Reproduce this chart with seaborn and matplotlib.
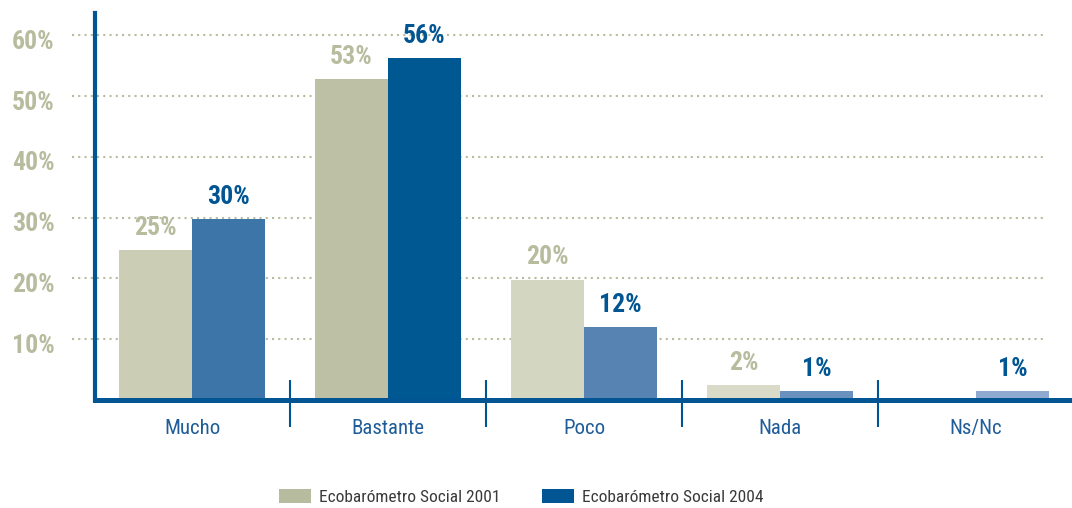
import matplotlib
matplotlib.use("Agg")
import matplotlib.pyplot as plt
import matplotlib.transforms as mtransforms
from matplotlib.patches import Patch
import seaborn as sns
import pandas as pd

# Data
categories = ['Mucho', 'Bastante', 'Poco', 'Nada', 'Ns/Nc']
series = ['Ecobarómetro Social 2001', 'Ecobarómetro Social 2004']
values_2001 = [24.6, 52.8, 19.8, 2.4, 0]
values_2004 = [29.7, 56.2, 12.0, 1.4, 1.4]
y_ticks = [10, 20, 30, 40, 50, 60]

# per-bar shades (the original fades the bars category by category)
shades_2001 = ['#cbcdb5', '#bdc0a5', '#d3d6c1', '#d9dbc8', '#e2e4d6']
shades_2004 = ['#3d75a8', '#005892', '#5783b3', '#6a90bd', '#8fa9d0']
olive = '#b8bc9e'
blue = '#005592'

df = pd.DataFrame({
    'cat': categories * 2,
    'serie': [series[0]] * len(categories) + [series[1]] * len(categories),
    'val': values_2001 + values_2004,
})

sns.set_style('white')
plt.rcParams['font.family'] = ['Roboto Condensed', 'DejaVu Sans']

fig = plt.figure(figsize=(10.72, 5.08), dpi=100)
ax = fig.add_axes([95 / 1072, 108 / 508, 975 / 1072, 387 / 508])

sns.barplot(data=df, x='cat', y='val', hue='serie', order=categories, hue_order=series,
            palette=[olive, blue], width=0.745, gap=0, linewidth=0, legend=False, ax=ax)

for cont, shades, lab_col in zip(ax.containers, [shades_2001, shades_2004], [olive, blue]):
    for bar, col in zip(cont, shades):
        bar.set_facecolor(col)
        h = bar.get_height()
        if h > 0:
            ax.annotate(f'{h:.0f}%', (bar.get_x() + bar.get_width() / 2, h),
                        xytext=(0, 11), textcoords='offset points', ha='center', va='baseline',
                        fontsize=18.5, fontweight='bold', color=lab_col)

ax.set_xlim(-0.495, -0.495 + 975 / 196)
ax.set_ylim(0, 387 / 6.08)

# dotted guide lines, reaching a bit left of the axis
ax.hlines(y_ticks, -0.61, 4.34, colors=olive, linewidth=1.5, linestyles=(0, (1, 2)),
          clip_on=False, zorder=0)
# separators between categories
ax.vlines([0.5, 1.5, 2.5, 3.5], -27 / 6.08, 20 / 6.08, colors=blue, linewidth=1.5,
          clip_on=False, zorder=3)

ax.set_yticks(y_ticks)
ax.set_yticklabels([f'{v}%' for v in y_ticks])
ax.tick_params(axis='y', length=0, pad=29, labelsize=18.5, labelcolor=olive)
for t in ax.get_yticklabels():
    t.set_fontweight('bold')
    t.set_transform(t.get_transform() + mtransforms.ScaledTranslation(0, -3 / 72, fig.dpi_scale_trans))
ax.tick_params(axis='x', length=0, pad=14, labelsize=15, labelcolor='#1f5c99')
ax.set_xlabel('')
ax.set_ylabel('')

for s in ['top', 'right']:
    ax.spines[s].set_visible(False)
ax.spines['left'].set_color(blue)
ax.spines['left'].set_linewidth(3.0)
ax.spines['bottom'].set_color(blue)
ax.spines['bottom'].set_linewidth(3.6)
ax.spines['bottom'].set_zorder(4)

handles = [Patch(facecolor=olive, edgecolor='none'), Patch(facecolor=blue, edgecolor='none')]
fig.legend(handles, series, loc='center', bbox_to_anchor=(521 / 1072, 1 - 497 / 508), ncol=2,
           frameon=False, fontsize=12.5, handlelength=1.85, handleheight=0.86,
           handletextpad=0.45, columnspacing=2.4, labelcolor='#3a3a3a')

fig.savefig('out.png', dpi=100)
